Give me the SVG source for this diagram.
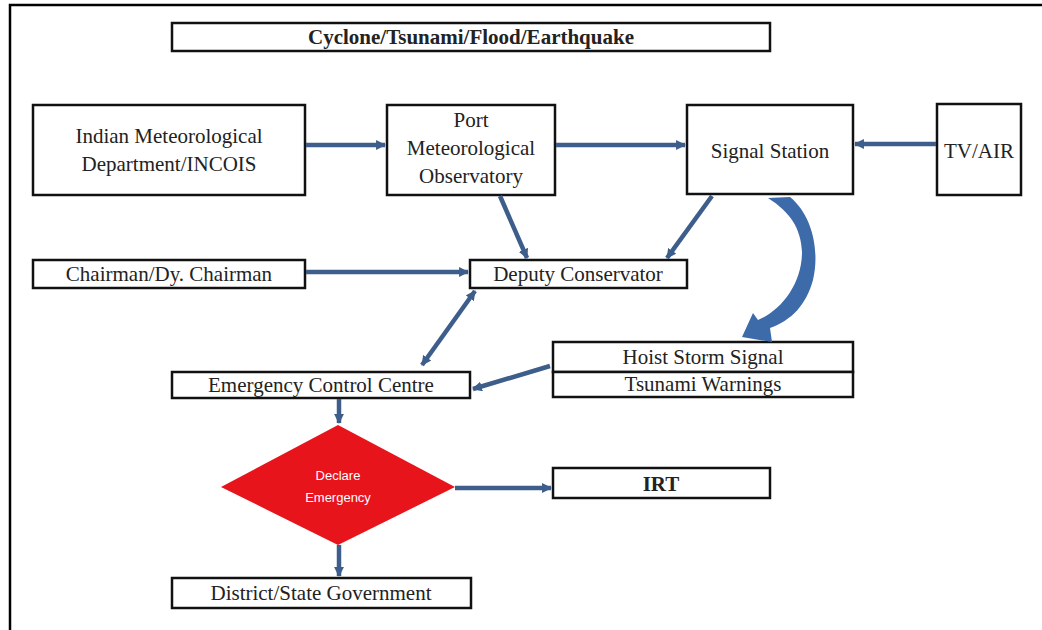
<svg xmlns="http://www.w3.org/2000/svg" width="1042" height="630" viewBox="0 0 1042 630">
<defs>
<style>
.box{fill:#fff;stroke:#111;stroke-width:2.5}
.t{font-family:"Liberation Serif","Times New Roman",serif;font-size:21px;fill:#222;text-anchor:middle}
.b{font-weight:bold}
.c{fill:none;stroke:#3d5d8b;stroke-width:4.5}
.w{font-family:"Liberation Sans",Arial,sans-serif;font-size:13px;fill:#fff;text-anchor:middle}
</style>
<marker id="ah" viewBox="0 0 10 10" refX="9" refY="5" markerWidth="2.2" markerHeight="2.2" orient="auto" markerUnits="strokeWidth">
<path d="M0,0 L10,5 L0,10 Z" fill="#3d5d8b"/>
</marker>
<marker id="as" viewBox="0 0 10 10" refX="1" refY="5" markerWidth="2.2" markerHeight="2.2" orient="auto" markerUnits="strokeWidth">
<path d="M10,0 L0,5 L10,10 Z" fill="#3d5d8b"/>
</marker>
</defs>
<rect width="1042" height="630" fill="#fff"/>
<path d="M10,630 L10,5 L1042,5" fill="none" stroke="#000" stroke-width="2.5"/>

<g id="title">
<rect class="box" x="172" y="23" width="598" height="28"/>
<text class="t b" x="471" y="44">Cyclone/Tsunami/Flood/Earthquake</text>
</g>
<g id="imd">
<rect class="box" x="33" y="105" width="272" height="90"/>
<text class="t" x="169" y="143">Indian Meteorological</text>
<text class="t" x="169" y="171">Department/INCOIS</text>
</g>
<g id="pmo">
<rect class="box" x="387" y="105" width="168" height="90"/>
<text class="t" x="471" y="127">Port</text>
<text class="t" x="471" y="155">Meteorological</text>
<text class="t" x="471" y="183">Observatory</text>
</g>
<g id="signal">
<rect class="box" x="687" y="105" width="166" height="89"/>
<text class="t" x="770" y="158">Signal Station</text>
</g>
<g id="tvair">
<rect class="box" x="937" y="104" width="84" height="91"/>
<text class="t" x="979" y="158">TV/AIR</text>
</g>
<g id="chairman">
<rect class="box" x="33" y="260" width="272" height="28"/>
<text class="t" x="169" y="281">Chairman/Dy. Chairman</text>
</g>
<g id="deputy">
<rect class="box" x="470" y="260" width="217" height="28"/>
<text class="t" x="578" y="281">Deputy Conservator</text>
</g>
<g id="hoist">
<rect class="box" x="553" y="342" width="300" height="30"/>
<rect class="box" x="553" y="372" width="300" height="25"/>
<text class="t" x="703" y="364">Hoist Storm Signal</text>
<text class="t" x="703" y="391">Tsunami Warnings</text>
</g>
<g id="ecc">
<rect class="box" x="172" y="372" width="298" height="26"/>
<text class="t" x="321" y="392">Emergency Control Centre</text>
</g>
<g id="declare">
<polygon points="338,425 455,487 338,545 221,487" fill="#e8141c"/>
<text class="w" x="338" y="480">Declare</text>
<text class="w" x="338" y="502">Emergency</text>
</g>
<g id="irt">
<rect class="box" x="553" y="468" width="217" height="30"/>
<text class="t b" x="661" y="491">IRT</text>
</g>
<g id="district">
<rect class="box" x="172" y="578" width="299" height="30"/>
<text class="t" x="321" y="600">District/State Government</text>
</g>

<g id="connectors">
<line class="c" x1="306" y1="145" x2="385" y2="145" marker-end="url(#ah)"/>
<line class="c" x1="556" y1="145" x2="685" y2="145" marker-end="url(#ah)"/>
<line class="c" x1="936" y1="144" x2="855" y2="144" marker-end="url(#ah)"/>
<line class="c" x1="306" y1="272" x2="468" y2="272" marker-end="url(#ah)"/>
<line class="c" x1="500" y1="196" x2="527" y2="258" marker-end="url(#ah)"/>
<line class="c" x1="712" y1="196" x2="667" y2="258" marker-end="url(#ah)"/>
<line class="c" x1="475" y1="291" x2="422" y2="365" marker-start="url(#as)" marker-end="url(#ah)"/>
<line class="c" x1="550" y1="366" x2="473" y2="389" marker-end="url(#ah)"/>
<line class="c" x1="339" y1="399" x2="339" y2="423" marker-end="url(#ah)"/>
<line class="c" x1="455" y1="488" x2="551" y2="488" marker-end="url(#ah)"/>
<line class="c" x1="339" y1="545" x2="339" y2="576" marker-end="url(#ah)"/>
<path d="M768,198 L790,197 C812,215 820,250 813,280 C806,305 792,320 770,328 L772,342 L742,337 L753,313 L758,320 C782,310 802,283 802,252 C801,228 790,212 768,198 Z" fill="#3d6aa8"/>
</g>
</svg>
